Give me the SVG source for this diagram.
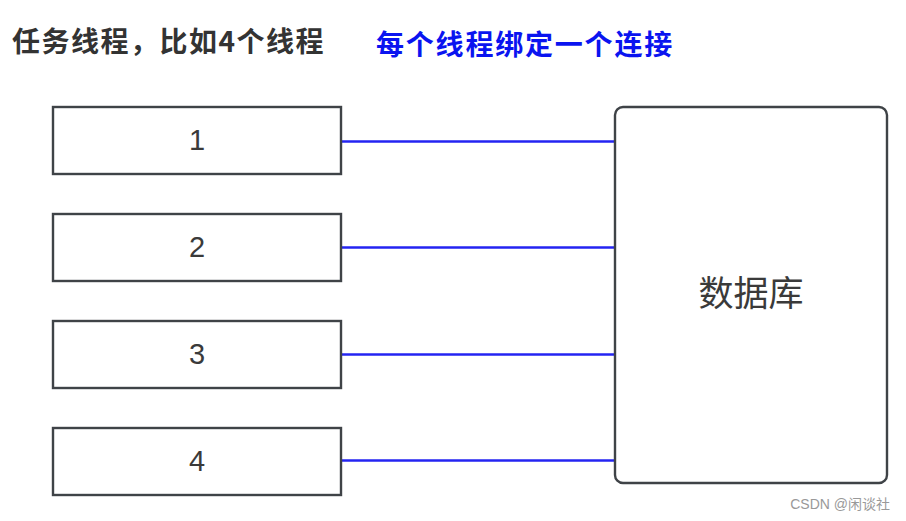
<svg xmlns="http://www.w3.org/2000/svg" width="906" height="521" viewBox="0 0 906 521">
<style>
.box{fill:#fff;stroke:#3f4347;stroke-width:2.4}
.num{font-family:"Liberation Sans","Noto Sans",sans-serif;font-size:29px;fill:#3a3a3a;text-anchor:middle}
.conn{stroke:#2424f2;stroke-width:2.5;fill:none}
.title{font-family:"Noto Sans CJK SC",sans-serif;font-weight:bold;font-size:28px}
</style>
<rect width="906" height="521" fill="#fff"/>
<text class="title" x="12" y="52" fill="#333" letter-spacing="1.5">任务线程，比如4个线程</text>
<text class="title" x="376" y="55" fill="#0a14f0" letter-spacing="1.8">每个线程绑定一个连接</text>
<g id="connectors">
<line class="conn" x1="342" y1="141.5" x2="615" y2="141.5"/>
<line class="conn" x1="342" y1="247.5" x2="615" y2="247.5"/>
<line class="conn" x1="342" y1="354.5" x2="615" y2="354.5"/>
<line class="conn" x1="342" y1="460.5" x2="615" y2="460.5"/>
</g>
<g id="t1"><rect class="box" x="53" y="107" width="288" height="67"/><text class="num" x="197" y="150">1</text></g>
<g id="t2"><rect class="box" x="53" y="214" width="288" height="67"/><text class="num" x="197" y="257">2</text></g>
<g id="t3"><rect class="box" x="53" y="321" width="288" height="67"/><text class="num" x="197" y="364">3</text></g>
<g id="t4"><rect class="box" x="53" y="428" width="288" height="67"/><text class="num" x="197" y="471">4</text></g>
<g id="db"><rect class="box" x="615" y="107" width="272" height="376" rx="8"/><text x="751" y="306" font-family="Noto Sans CJK SC,sans-serif" font-size="35" fill="#3a3a3a" text-anchor="middle">数据库</text></g>
<text x="890" y="509" font-family="Liberation Sans,Noto Sans CJK SC,sans-serif" font-size="14" fill="#999" text-anchor="end">CSDN @闲谈社</text>
</svg>
